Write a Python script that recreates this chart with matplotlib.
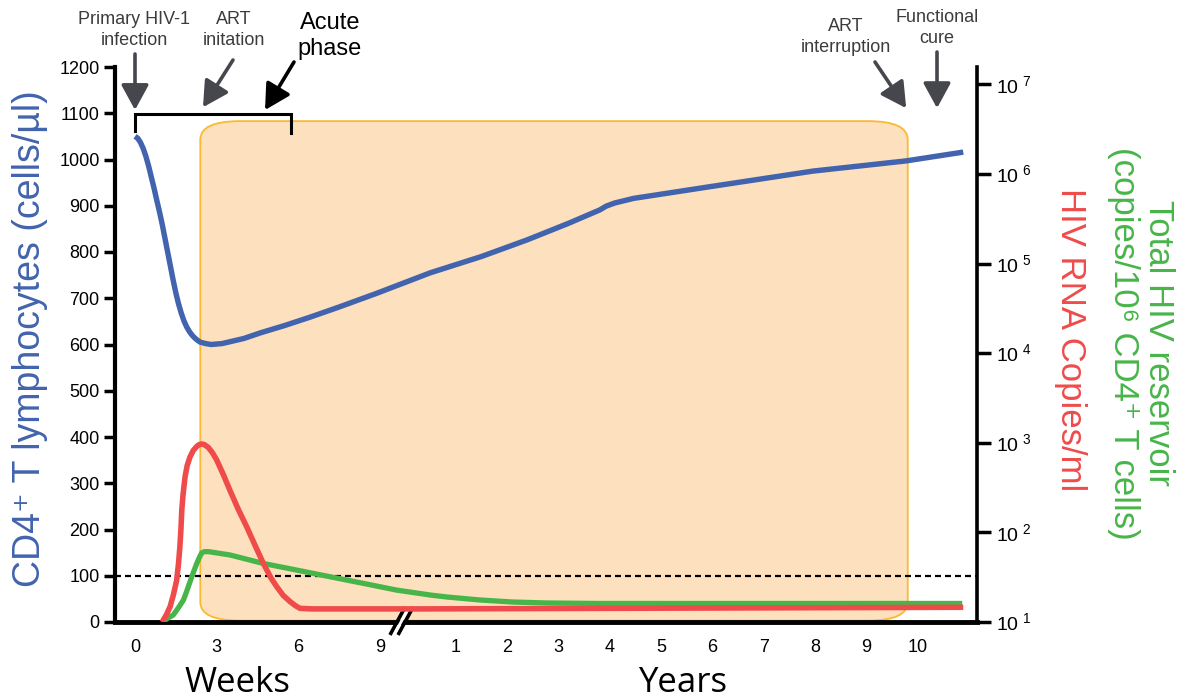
import matplotlib
matplotlib.use("Agg")
import matplotlib.pyplot as plt
import numpy as np
from matplotlib.patches import FancyBboxPatch
from matplotlib.ticker import NullLocator

plt.rcParams['font.family'] = ['Liberation Sans', 'DejaVu Sans']
plt.rcParams['mathtext.fontset'] = 'custom'
plt.rcParams['mathtext.rm'] = 'Liberation Sans'

# --- data (time in weeks for the acute part, years afterwards) ---
cd4_weeks = [0, 0.1, 0.2, 0.3, 0.4, 0.5, 0.6, 0.7, 0.8, 0.9, 1.0, 1.1, 1.2, 1.3, 1.4, 1.5,
             1.6, 1.7, 1.8, 1.9, 2.0, 2.1, 2.2, 2.3, 2.4, 2.6, 2.8, 3.2, 4.0, 4.6, 5.5,
             6.43, 7.5, 8.9]
cd4_weeks_val = [1050, 1046, 1037, 1024, 1007, 986, 962, 938, 912, 887, 860, 830, 800, 770,
                 740, 712, 688, 668, 651, 638, 628, 620, 614, 609, 605, 602, 600, 602, 613,
                 625, 641, 659, 681, 711]
cd4_years = [0.51, 1.5, 2.39, 3.2, 3.81, 3.93, 4.1, 4.47, 5.88, 7.96, 9.77, 10.88]
cd4_years_val = [755, 790, 826, 862, 891, 899, 906, 916, 940, 975, 997, 1016]

rna_weeks = [1.0, 1.15, 1.29, 1.41, 1.53, 1.6, 1.65, 1.69, 1.72, 1.77, 1.84, 1.92, 2.02,
             2.14, 2.27, 2.36, 2.45, 2.55, 2.69, 2.84, 3.0, 3.25, 3.49, 3.8, 4.11, 4.42,
             4.72, 5.0, 5.21, 5.45, 5.7, 5.9, 6.07, 6.5, 9.4]
rna_weeks_val = [10, 12, 14.8, 20, 29, 45, 69, 110, 178, 270, 417, 560, 692,
                 820, 912, 955, 970, 955, 891, 780, 646, 440, 295, 180, 115, 71,
                 45, 31, 24.8, 19.8, 16.9, 15.2, 14.2, 14, 14]
rna_years = [0.31, 10.88]
rna_years_val = [14, 14.6]

res_weeks = [1.0, 1.2, 1.41, 1.6, 1.78, 1.9, 2.02, 2.15, 2.27, 2.36, 2.45, 2.55, 2.7,
             3.49, 4.72, 5.94, 7.17, 8.39, 9.62]
res_weeks_val = [10, 11, 12, 14.5, 17.6, 22, 28, 36, 45, 52, 59, 61, 61,
                 56, 45, 38, 32, 27, 22.7]
res_years = [0.51, 0.84, 1.48, 2.12, 2.78, 3.81, 10.86]
res_years_val = [20, 19, 17.6, 16.7, 16.3, 16.1, 16.1]

week_ticks = [0, 3, 6, 9]
year_ticks = [1, 2, 3, 4, 5, 6, 7, 8, 9, 10]
cd4_ticks = list(range(0, 1300, 100))
log_ticks = [1, 2, 3, 4, 5, 6, 7]
threshold = 100
art_start_week = 2.4
art_stop_year = 9.8
acute_end_week = 5.75

BLUE = '#4264AE'
RED = '#EF4B4B'
GREEN = '#47B549'
GREY = '#45474D'

W, H = 1189, 698


def wx(w):
    return 135 + 27.2 * np.asarray(w, dtype=float)


def yx(y):
    return 404 + 51.4 * np.asarray(y, dtype=float)


def fig_px(x, y):
    return x / W, 1 - y / H


fig = plt.figure(figsize=(W / 100, H / 100), dpi=100)
ax = fig.add_axes([115 / W, (H - 622) / H, 862 / W, 555 / H])
ax.set_xlim(115, 977)
ax.set_ylim(0, 1200)
ax2 = ax.twinx()
ax2.set_yscale('log')
ax2.set_ylim(10, 10 ** (1 + 555 / 89.6))
ax.set_zorder(0)
ax2.set_zorder(1)
ax2.patch.set_visible(False)

# treatment box
ax.add_patch(FancyBboxPatch((wx(art_start_week), 3), yx(art_stop_year) - wx(art_start_week), 1080,
                            boxstyle="round,pad=0,rounding_size=40",
                            facecolor='#FDE0BD', edgecolor='#FBB931', lw=1.3, zorder=1))
ax.axhline(threshold, color='black', lw=1.6, dashes=(2.7, 1.8), zorder=2)

ax.plot(np.concatenate([wx(cd4_weeks), yx(cd4_years)]), cd4_weeks_val + cd4_years_val,
        color=BLUE, lw=3.9, solid_capstyle='butt', solid_joinstyle='round', zorder=4)
ax2.plot(np.concatenate([wx(res_weeks), yx(res_years)]), res_weeks_val + res_years_val,
         color=GREEN, lw=3.8, solid_capstyle='butt', solid_joinstyle='round', zorder=3)
ax2.plot(np.concatenate([wx(rna_weeks), yx(rna_years)]), rna_weeks_val + rna_years_val,
         color=RED, lw=4.0, solid_capstyle='butt', solid_joinstyle='round', zorder=3)

# spines / ticks
for a in (ax, ax2):
    a.spines['top'].set_visible(False)
ax.spines['left'].set_linewidth(3)
ax.spines['bottom'].set_linewidth(3.5)
ax.spines['right'].set_visible(False)
ax2.spines['right'].set_linewidth(2.6)
ax2.spines['left'].set_visible(False)
ax2.spines['bottom'].set_visible(False)

ax.set_yticks(cd4_ticks)
ax.tick_params(axis='y', length=8, width=2.5, labelsize=13, pad=3)
ax.set_xticks(list(wx(week_ticks)) + list(yx(year_ticks)))
ax.set_xticklabels([str(t) for t in week_ticks + year_ticks], fontsize=13)
ax.tick_params(axis='x', length=0, pad=12)

ax2.set_yticks([10.0 ** k for k in log_ticks])
ax2.set_yticklabels([r'$10^{\ %d}$' % k for k in log_ticks], fontsize=14)
ax2.yaxis.set_minor_locator(NullLocator())
ax2.tick_params(axis='y', length=10, width=2.5, pad=4)

# axis break
for dx, col, lw in [(-4, 'black', 2.6), (4, 'black', 2.6), (0, 'white', 2.0)]:
    ax.plot([394 + dx, 409 + dx], [-28, 32], color=col, lw=lw, clip_on=False, zorder=6,
            solid_capstyle='butt')

# acute bracket
bx0, bx1 = wx(0), wx(acute_end_week)
ax.plot([bx0, bx0, bx1, bx1], [1062, 1098, 1098, 1058], color='black', lw=2.2,
        clip_on=False, zorder=6, solid_joinstyle='miter')

# arrows
arrows = [
    ((wx(0), 1107), (135, 54), GREY),
    ((wx(2.5), 1113), (233, 60), GREY),
    ((wx(4.78), 1107), (294, 62), 'black'),
    ((yx(9.77), 1111), (875, 62), GREY),
    ((yx(10.37), 1111), (937, 52), GREY),
]
for tip, start, col in arrows:
    ax.annotate('', xy=tip, xycoords='data', xytext=fig_px(*start), textcoords='figure fraction',
                arrowprops=dict(arrowstyle='-|>,head_length=1.1,head_width=0.6', mutation_scale=14,
                                color=col, lw=2.6, shrinkA=0, shrinkB=0),
                annotation_clip=False)

notes = [
    ("Primary HIV-1\ninfection", 134, 30, 13, '#3C3C3C'),
    ("ART\ninitation", 234, 30, 13, '#3C3C3C'),
    ("Acute\nphase", 330, 36, 17, 'black'),
    ("ART\ninterruption", 846, 37, 13, '#3C3C3C'),
    ("Functional\ncure", 937, 28, 13, '#3C3C3C'),
]
for txt, x, y, fs, col in notes:
    fig.text(*fig_px(x, y), txt, ha='center', va='center', fontsize=fs, color=col,
             linespacing=1.25)

# axis titles
fig.text(*fig_px(30, 339), "CD4⁺ T lymphocytes (cells/µl)", rotation=90, fontsize=27,
         color=BLUE, ha='center', va='center')
fig.text(*fig_px(1070, 340), "HIV RNA Copies/ml", rotation=270, fontsize=25,
         color=RED, ha='center', va='center')
fig.text(*fig_px(1141, 343), "Total HIV reservoir\n(copies/10⁶ CD4⁺ T cells)", rotation=270,
         fontsize=25, color=GREEN, ha='center', va='center', linespacing=1.1,
         multialignment='center')
fig.text(*fig_px(237, 683), "Weeks", fontsize=25, ha='center', va='center',
         family=['Open Sans', 'DejaVu Sans'])
fig.text(*fig_px(683, 683), "Years", fontsize=25, ha='center', va='center',
         family=['Open Sans', 'DejaVu Sans'])

fig.savefig("out.png", dpi=100)
